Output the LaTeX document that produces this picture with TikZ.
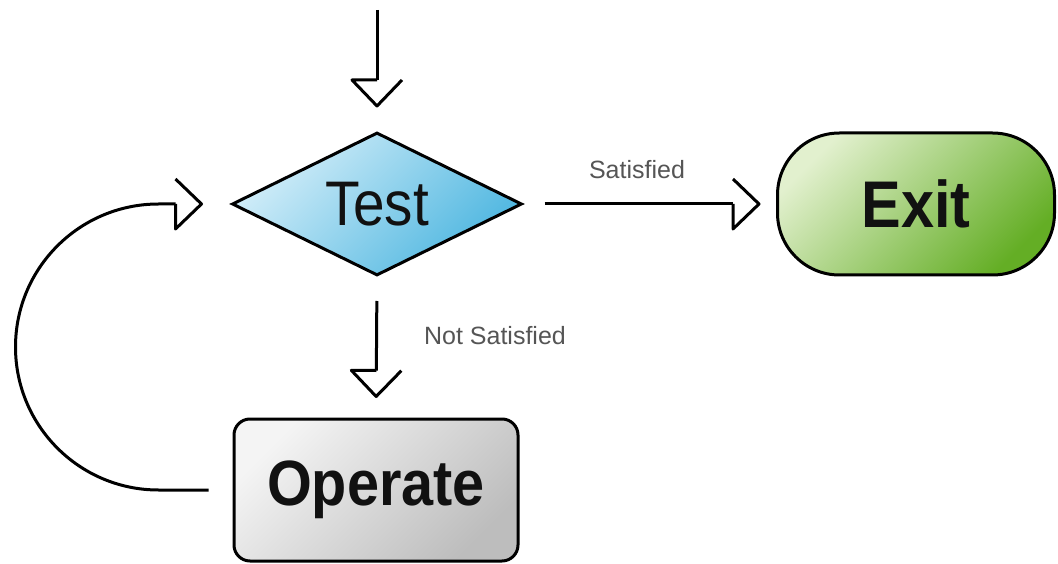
\documentclass[tikz,border=0pt]{standalone}
\usepackage{fontspec}
\setmainfont{Liberation Sans}
\newfontfamily\nodefont[FakeStretch=0.9]{Liberation Sans}
\usetikzlibrary{shapes.geometric,arrows.meta}
\definecolor{bluelight}{HTML}{D4EEF9}
\definecolor{bluemid}{HTML}{86CFEC}
\definecolor{bluedark}{HTML}{4DB6E0}
\definecolor{greenlight}{HTML}{E2F0CE}
\definecolor{greenmid}{HTML}{80C244}
\definecolor{greendark}{HTML}{64AE25}
\definecolor{graylight}{HTML}{F4F4F4}
\definecolor{graymid}{HTML}{DADADA}
\definecolor{graydark}{HTML}{BDBDBD}
\definecolor{labelgray}{HTML}{555555}
\definecolor{ink}{HTML}{111111}
\pgfdeclarearrow{
  name = Flag,
  parameters = {\the\pgfarrowlength,\the\pgfarrowwidth},
  setup code = {
    \pgfarrowssettipend{0pt}
    \pgfarrowssetlineend{-\pgfarrowlength}
    \pgfarrowssetbackend{-\pgfarrowlength}
    \pgfarrowssetvisualbackend{-\pgfarrowlength}
    \pgfarrowsupperhullpoint{-\pgfarrowlength}{.5\pgfarrowwidth}
    \pgfarrowsupperhullpoint{0pt}{0pt}
    \pgfarrowssavethe\pgfarrowlength
    \pgfarrowssavethe\pgfarrowwidth
  },
  drawing code = {
    \pgfsetdash{}{0pt}
    \pgfsetroundjoin
    \pgfpathmoveto{\pgfqpoint{-\pgfarrowlength}{0pt}}
    \pgfpathlineto{\pgfqpoint{-\pgfarrowlength}{-.5\pgfarrowwidth}}
    \pgfpathlineto{\pgfpointorigin}
    \pgfpathlineto{\pgfqpoint{-\pgfarrowlength}{.5\pgfarrowwidth}}
    \pgfusepathqstroke
  },
  defaults = {length=26pt, width=50pt}
}
\tikzset{
  flow/.style={line width=3pt, draw=black, -{Flag[length=26pt,width=50pt]}},
  testbox/.style={diamond, draw=black, line width=3pt, minimum width=290pt, minimum height=143pt, aspect=2.03, inner sep=0pt,
     left color=bluelight, middle color=bluemid, right color=bluedark, shading angle=45, text=ink,
     font=\nodefont\fontsize{63}{70}\selectfont},
  exitbox/.style={rectangle, rounded corners=62pt, draw=black, line width=3pt, minimum width=277pt, minimum height=142pt,
     left color=greenlight, middle color=greenmid, right color=greendark, shading angle=45, text=ink,
     font=\nodefont\bfseries\fontsize{66}{72}\selectfont},
  opbox/.style={rectangle, rounded corners=16pt, draw=black, line width=3pt, minimum width=284pt, minimum height=142pt,
     left color=graylight, middle color=graymid, right color=graydark, shading angle=45, text=ink,
     font=\nodefont\bfseries\fontsize{64}{72}\selectfont},
  lbl/.style={text=labelgray, font=\fontsize{25}{30}\selectfont, inner sep=0pt}
}
\begin{document}
\begin{tikzpicture}[x=1pt,y=1pt]
\useasboundingbox (0,0) rectangle (1058,563);
\node[testbox] (test) at (377,359) {Test};
\node[exitbox] (exit) at (916,359) {Exit};
\node[opbox] (op) at (376,73) {Operate};
\coordinate (start) at (377,553);
\draw[flow, shorten >=25pt] (start) -- (test.north);
\draw[flow, shorten <=21pt, shorten >=17pt] (test.east) -- (exit.west);
\draw[flow, shorten <=24pt, shorten >=21pt] (test.south) -- (op.north);
\draw[flow, shorten <=24pt, shorten >=29pt] (op.west) -- ++(-74,0) arc[start angle=270, end angle=90, radius=143] -- (test.west);
\node[lbl] (sat) at (637,393) {Satisfied};
\node[lbl] (nsat) at (495,227) {Not Satisfied};
\end{tikzpicture}
\end{document}
